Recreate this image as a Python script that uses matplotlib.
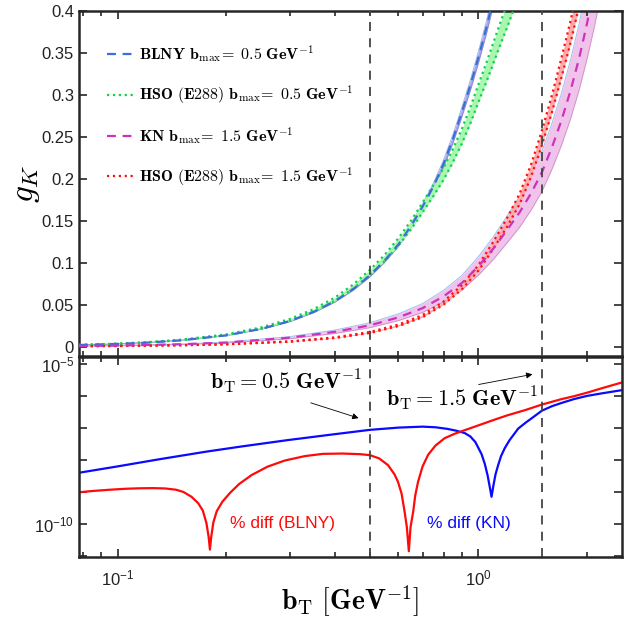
import numpy as np
import matplotlib.pyplot as plt

plt.rcParams['font.family'] = ['Liberation Sans', 'DejaVu Sans']
plt.rcParams['mathtext.fontset'] = 'custom'
plt.rcParams['mathtext.rm'] = 'Liberation Sans'
plt.rcParams['mathtext.it'] = 'Liberation Sans:italic'
plt.rcParams['mathtext.bf'] = 'Liberation Sans:bold'

# ---- top panel: g_K(b_T) ----
b_blny = [0.078, 0.1, 0.12, 0.15, 0.2, 0.25, 0.3, 0.35, 0.4, 0.45, 0.5, 0.55,
          0.6, 0.65, 0.7, 0.75, 0.8, 0.85, 0.9, 0.95, 1.0, 1.05, 1.1]
g_blny = [0.0021, 0.0034, 0.0049, 0.0077, 0.0136, 0.0213, 0.0306, 0.0417, 0.0544,
          0.0689, 0.085, 0.103, 0.122, 0.144, 0.167, 0.191, 0.218, 0.248, 0.280,
          0.312, 0.345, 0.379, 0.415]
g_blny_lo = [0.00206, 0.00333, 0.0048, 0.00755, 0.01333, 0.02087, 0.0300, 0.0409,
             0.0533, 0.0675, 0.0833, 0.1009, 0.1196, 0.1411, 0.1637, 0.1872, 0.2136,
             0.2430, 0.2744, 0.3058, 0.3381, 0.3714, 0.4067]
g_blny_hi = [0.00214, 0.00347, 0.0050, 0.00785, 0.01387, 0.02173, 0.0312, 0.0425,
             0.0555, 0.0703, 0.0867, 0.1051, 0.1244, 0.1469, 0.1703, 0.1948, 0.2224,
             0.2530, 0.2856, 0.3182, 0.3519, 0.3866, 0.4233]

b_hso05 = [0.078, 0.1, 0.12, 0.15, 0.2, 0.25, 0.3, 0.35, 0.4, 0.45, 0.5, 0.55, 0.6,
           0.65, 0.7, 0.75, 0.8, 0.85, 0.9, 0.95, 1.0, 1.05, 1.1, 1.15, 1.2, 1.25]
g_hso05_lo = [0.0021, 0.0035, 0.0050, 0.0078, 0.0138, 0.0215, 0.0309, 0.0420, 0.0547,
              0.0693, 0.0854, 0.1023, 0.1206, 0.1399, 0.1602, 0.1795, 0.1988, 0.2200,
              0.2422, 0.2663, 0.2914, 0.3146, 0.3378, 0.3599, 0.3802, 0.4005]
g_hso05_hi = [0.0023, 0.0037, 0.0054, 0.0084, 0.0148, 0.0231, 0.0331, 0.0450, 0.0587,
              0.0743, 0.0916, 0.1097, 0.1294, 0.1501, 0.1718, 0.1925, 0.2132, 0.2360,
              0.2598, 0.2857, 0.3126, 0.3374, 0.3623, 0.3861, 0.4078, 0.4295]

b_kn = [0.078, 0.1, 0.15, 0.2, 0.3, 0.4, 0.5, 0.6, 0.7, 0.8, 0.9, 1.0, 1.1, 1.2,
        1.3, 1.4, 1.5, 1.6, 1.7, 1.8, 1.9, 2.0, 2.1, 2.2]
g_kn = [0.0009, 0.0014, 0.0030, 0.0050, 0.0108, 0.0178, 0.0255, 0.035, 0.046, 0.060,
        0.076, 0.096, 0.117, 0.139, 0.160, 0.183, 0.208, 0.238, 0.270, 0.305, 0.343,
        0.385, 0.430, 0.478]
g_kn_lo = [0.0008, 0.00125, 0.00267, 0.00445, 0.0096, 0.0158, 0.0227, 0.0312, 0.0409,
           0.0534, 0.0676, 0.0854, 0.1041, 0.1237, 0.1424, 0.1629, 0.1851, 0.2118,
           0.2403, 0.2715, 0.3053, 0.3427, 0.3827, 0.4254]
g_kn_hi = [0.0010, 0.00157, 0.00336, 0.0056, 0.0121, 0.0199, 0.0286, 0.0392, 0.0515,
           0.0672, 0.0851, 0.1075, 0.1310, 0.1557, 0.1792, 0.2050, 0.2330, 0.2666,
           0.3024, 0.3416, 0.3842, 0.4312, 0.4816, 0.5354]

b_hso15 = [0.078, 0.1, 0.15, 0.2, 0.3, 0.4, 0.5, 0.6, 0.7, 0.8, 0.9, 1.0, 1.1, 1.2,
           1.3, 1.4, 1.5, 1.6, 1.7, 1.8, 1.9, 2.0]
g_hso15_lo = [0.00058, 0.00087, 0.00174, 0.0029, 0.0060, 0.0104, 0.0164, 0.0246,
              0.0352, 0.0502, 0.0685, 0.0907, 0.1168, 0.1428, 0.1698, 0.2027, 0.2403,
              0.2799, 0.3213, 0.3619, 0.4053, 0.4497]
g_hso15_hi = [0.00062, 0.00093, 0.00186, 0.0031, 0.0064, 0.0112, 0.0176, 0.0264,
              0.0378, 0.0538, 0.0735, 0.0973, 0.1252, 0.1532, 0.1822, 0.2174, 0.2577,
              0.3002, 0.3447, 0.3881, 0.4347, 0.4823]

labels = [r'$\mathbf{BLNY\ b}_{\rm max}\mathbf{\!=\ 0.5\ GeV}^{\mathbf{-1}}$',
          r'$\mathbf{HSO\ (E288)\ b}_{\rm max}\mathbf{\!=\ 0.5\ GeV}^{\mathbf{-1}}$',
          r'$\mathbf{KN\ b}_{\rm max}\mathbf{\!=\ 1.5\ GeV}^{\mathbf{-1}}$',
          r'$\mathbf{HSO\ (E288)\ b}_{\rm max}\mathbf{\!=\ 1.5\ GeV}^{\mathbf{-1}}$']

b_diff_blny = [0.078, 0.085, 0.095, 0.105, 0.115, 0.125, 0.135, 0.145, 0.152, 0.160,
               0.167, 0.172, 0.176, 0.1785, 0.180, 0.1815, 0.184, 0.188, 0.195, 0.205,
               0.217, 0.235, 0.26, 0.29, 0.33, 0.37, 0.42, 0.47, 0.50, 0.53, 0.561,
               0.585, 0.598, 0.612, 0.624, 0.633, 0.641, 0.648, 0.659, 0.668, 0.680,
               0.70, 0.725, 0.76, 0.806, 0.86, 0.916, 1.0, 1.09, 1.2, 1.35, 1.5, 1.7,
               1.84, 2.0, 2.2, 2.5]
exp_diff_blny = [-9.01, -8.97, -8.93, -8.90, -8.885, -8.88, -8.89, -8.93, -9.00, -9.15,
                 -9.35, -9.58, -9.97, -10.40, -10.80, -10.40, -9.95, -9.60, -9.30, -9.02,
                 -8.75, -8.47, -8.21, -8.02, -7.88, -7.81, -7.80, -7.82, -7.85, -7.95,
                 -8.16, -8.45, -8.68, -9.05, -9.62, -10.10, -10.85, -10.10, -9.62, -9.10,
                 -8.68, -8.20, -7.84, -7.55, -7.32, -7.18, -7.07, -6.92, -6.77, -6.61,
                 -6.44, -6.27, -6.10, -6.01, -5.90, -5.76, -5.58]

b_diff_kn = [0.078, 0.1, 0.13, 0.176, 0.22, 0.296, 0.39, 0.5, 0.6, 0.7, 0.76, 0.82,
             0.87, 0.916, 0.95, 0.98, 1.0, 1.02, 1.041, 1.06, 1.075, 1.087, 1.10, 1.115,
             1.134, 1.155, 1.183, 1.22, 1.289, 1.35, 1.4, 1.5, 1.6, 1.7, 1.84, 2.0,
             2.2, 2.5]
exp_diff_kn = [-8.40, -8.20, -7.98, -7.74, -7.58, -7.38, -7.21, -7.06, -6.99, -6.96,
               -6.98, -7.03, -7.09, -7.16, -7.27, -7.44, -7.63, -7.82, -8.12, -8.48,
               -8.85, -9.15, -8.80, -8.45, -8.16, -7.88, -7.63, -7.38, -7.02, -6.84,
               -6.71, -6.46, -6.32, -6.22, -6.10, -6.00, -5.92, -5.82]

b_marks = [0.5, 1.5]
x_minor = [0.08, 0.09, 0.2, 0.3, 0.4, 0.5, 0.6, 0.7, 0.8, 0.9, 2.0]

spine_c = '#262626'


def style_axes(ax):
    for s in ax.spines.values():
        s.set_linewidth(1.8)
        s.set_color(spine_c)
    ax.tick_params(which='both', direction='in', top=True, right=True,
                   colors=spine_c, width=1.2, labelsize=12, labelcolor='#222222')
    ax.tick_params(which='major', length=6)
    ax.tick_params(which='minor', length=3.5)
    ax.set_xticks(x_minor, minor=True)
    ax.xaxis.set_minor_formatter(plt.NullFormatter())


fig = plt.figure(figsize=(6.41, 6.19), dpi=100)
ax1 = fig.add_axes([0.1232, 0.4249, 0.8471, 0.5574])
ax2 = fig.add_axes([0.1232, 0.1002, 0.8471, 0.3223])

# top panel
ax1.fill_between(b_blny, g_blny_lo, g_blny_hi, color='#a9a6ee', lw=0, zorder=2)
ax1.plot(b_blny, g_blny_hi, color='#9fb8e8', lw=0.7, zorder=2)
ax1.plot(b_blny, g_blny_lo, color='#8c8cc8', lw=0.6, zorder=2)
l1, = ax1.plot(b_blny, g_blny, ls=(0, (4, 3)), color='#3b6fd8', lw=1.6, zorder=4)

ax1.fill_between(b_hso05, g_hso05_lo, g_hso05_hi, color='#a8f7b0', lw=0, zorder=2)
l2, = ax1.plot(b_hso05, g_hso05_lo, ls=':', color='#12cf4e', lw=1.6, zorder=3)
ax1.plot(b_hso05, g_hso05_hi, ls=':', color='#12cf4e', lw=1.6, zorder=3)

ax1.fill_between(b_kn, g_kn_lo, g_kn_hi, color='#efc3ea', lw=0, zorder=1)
ax1.plot(b_kn, g_kn_hi, color='#9fc0ee', lw=0.7, zorder=1)
ax1.plot(b_kn, g_kn_lo, color='#d090c8', lw=0.6, zorder=1)
l3, = ax1.plot(b_kn, g_kn, ls=(0, (4, 3)), color='#cc33bb', lw=1.6, zorder=4)

ax1.fill_between(b_hso15, g_hso15_lo, g_hso15_hi, color='#ffaaaa', lw=0, zorder=2)
l4, = ax1.plot(b_hso15, g_hso15_lo, ls=':', color='#ff1010', lw=1.6, zorder=3)
ax1.plot(b_hso15, g_hso15_hi, ls=':', color='#ff1010', lw=1.6, zorder=3)

for bm in b_marks:
    ax1.axvline(bm, color='#444444', ls=(0, (5, 4)), lw=1.3, zorder=5)

ax1.set_xscale('log')
ax1.set_xlim(0.078, 2.5)
ax1.set_ylim(-0.011, 0.4)
yt = np.arange(0, 0.41, 0.05)
ax1.set_yticks(yt)
ax1.set_yticklabels(['0', '0.05', '0.1', '0.15', '0.2', '0.25', '0.3', '0.35', '0.4'])
ax1.set_xticks([0.1, 1.0])
style_axes(ax1)
ax1.tick_params(axis='x', which='both', labelbottom=False)
ax1.set_ylabel(r'$g_K$', fontsize=24, math_fontfamily='cm', labelpad=0)

leg = ax1.legend([l1, l2, l3, l4], labels, loc='upper left',
                 bbox_to_anchor=(0.052, 0.905), frameon=False, fontsize=11.5,
                 handlelength=1.6, handletextpad=0.4, labelspacing=1.2,
                 borderaxespad=0, borderpad=0)
for t in leg.get_texts():
    t.set_math_fontfamily('cm')

# bottom panel
ax2.plot(b_diff_kn, 10.0 ** np.array(exp_diff_kn), color='#0a0aff', lw=1.6)
ax2.plot(b_diff_blny, 10.0 ** np.array(exp_diff_blny), color='#ff0a0a', lw=1.6)
for bm in b_marks:
    ax2.axvline(bm, color='#444444', ls=(0, (5, 4)), lw=1.3)

ax2.set_xscale('log')
ax2.set_yscale('log')
ax2.set_xlim(0.078, 2.5)
ax2.set_ylim(10 ** -11.03, 10 ** -4.80)
decades = [10.0 ** k for k in range(-11, -4)]
ax2.set_yticks(decades)
ax2.set_yticklabels(['$10^{-%d}$' % k if k in (5, 10) else '' for k in range(11, 4, -1)])
ax2.yaxis.set_minor_locator(plt.NullLocator())
ax2.set_xticks([0.1, 1.0])
ax2.set_xticklabels([r'$10^{-1}$', r'$10^{0}$'])
style_axes(ax2)
ax2.tick_params(axis='x', which='major', pad=8)

ax2.text(0.180, 10 ** -5.53, r'$\mathbf{b}_{\rm T} = 0.5\ \mathbf{GeV}^{-1}$',
         fontsize=16, math_fontfamily='cm', ha='left', va='center')
ax2.text(0.555, 10 ** -6.06, r'$\mathbf{b}_{\rm T} = 1.5\ \mathbf{GeV}^{-1}$',
         fontsize=16, math_fontfamily='cm', ha='left', va='center')
arrow = dict(arrowstyle='-|>', color='k', lw=0.6, mutation_scale=9)
ax2.annotate('', xy=(0.473, 10 ** -6.72), xytext=(0.337, 10 ** -6.19), arrowprops=arrow)
ax2.annotate('', xy=(1.436, 10 ** -5.31), xytext=(0.984, 10 ** -5.66), arrowprops=arrow)

ax2.text(0.287, 10 ** -10.0, '% diff (BLNY)', color='#ff0a0a', fontsize=12.5,
         ha='center', va='center')
ax2.text(0.938, 10 ** -10.0, '% diff (KN)', color='#0a0aff', fontsize=12.5,
         ha='center', va='center')

fig.text(0.5468, 0.028, r'$\mathbf{b}_{\rm T}\ [\mathbf{GeV}^{-1}]$', fontsize=20,
         math_fontfamily='cm', ha='center', va='center')

fig.savefig('out.png', dpi=100)
